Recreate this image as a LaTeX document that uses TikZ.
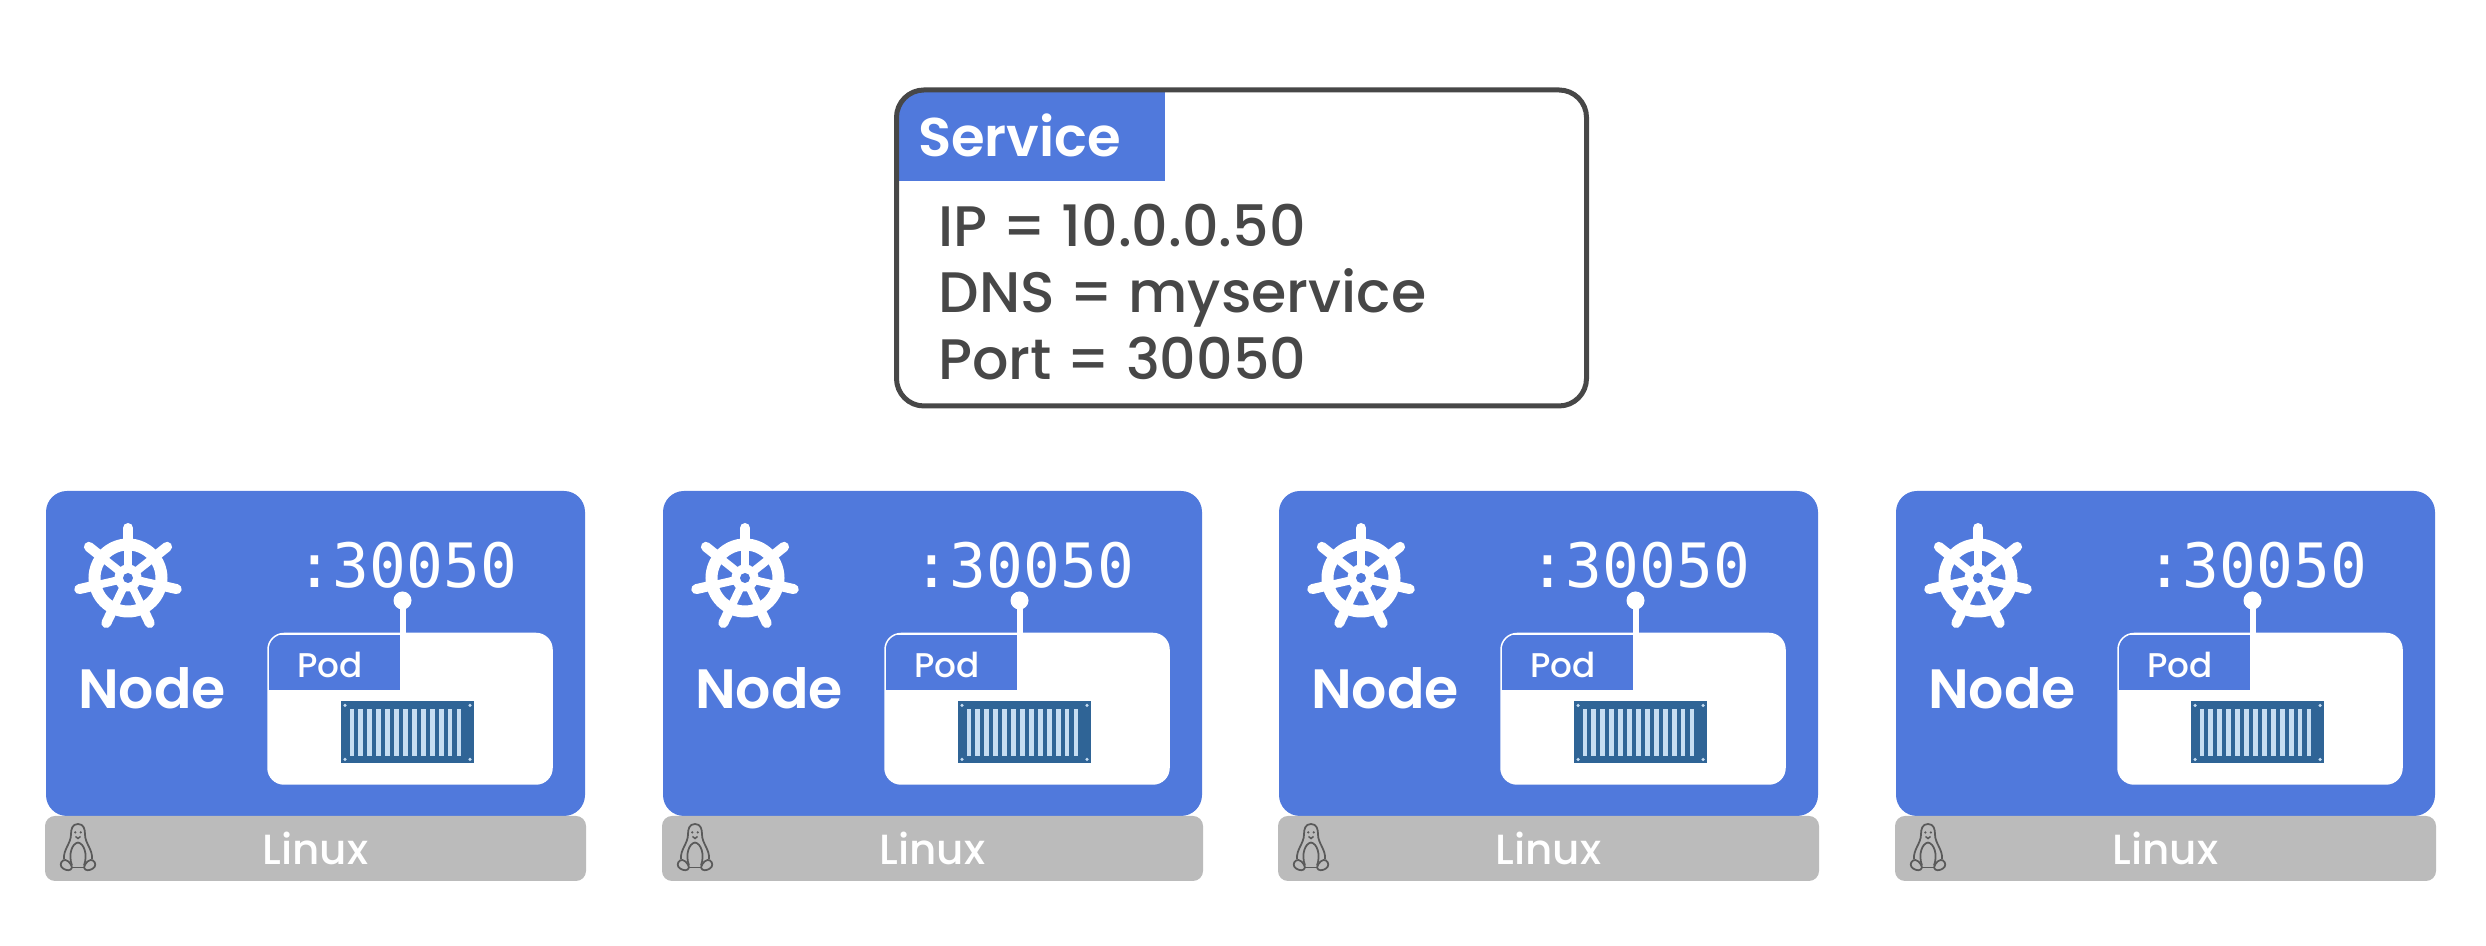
\documentclass[tikz,border=0pt]{standalone}
\usepackage{fontspec}
\setmainfont{Poppins}[UprightFont=* Medium, BoldFont=* SemiBold]
\setmonofont{DejaVu Sans Mono}
\usepackage{tikz}
\usetikzlibrary{positioning}
\definecolor{kubeblue}{HTML}{5079DC}
\definecolor{osgray}{HTML}{BBBBBB}
\definecolor{inkgray}{HTML}{474747}
\definecolor{crateblue}{HTML}{2F6496}
\definecolor{slatblue}{HTML}{C6DDF2}
\definecolor{tuxgray}{HTML}{5A5A5A}

\tikzset{
  helm/.pic={
    \foreach \a in {0,...,6} {
      \draw[white, line width=0.16cm] (0,0) -- (90+\a*360/7:0.71);
      \draw[white, line width=0.2cm, line cap=round] (90+\a*360/7:0.71) -- (90+\a*360/7:1.0);
    }
    \draw[white, line width=0.24cm] (0,0) circle (0.67);
    \fill[white] (0,0) circle (0.27);
    \fill[kubeblue] (0,0) circle (0.1);
  },
  tux/.pic={
    \foreach \s in {1,-1} {
      \begin{scope}[xscale=\s, draw=tuxgray, line width=0.035cm]
        \draw (0,0.49) .. controls (0.12,0.49) and (0.14,0.38) .. (0.14,0.28)
          .. controls (0.14,0.1) and (0.3,-0.02) .. (0.28,-0.22);
        \draw (0,0.12) .. controls (0.12,0.1) and (0.2,-0.12) .. (0.12,-0.34);
        \draw (0,-0.38) -- (0.12,-0.38);
        \draw (0.12,-0.38) .. controls (0.14,-0.28) and (0.24,-0.2) .. (0.3,-0.24)
          .. controls (0.36,-0.28) and (0.36,-0.36) .. (0.3,-0.4)
          .. controls (0.24,-0.44) and (0.14,-0.46) .. (0.12,-0.38);
        \fill[tuxgray] (0.055,0.32) circle (0.025);
      \end{scope}
    }
    \draw[tuxgray, line width=0.03cm] (-0.05,0.24) -- (0,0.2) -- (0.05,0.24);
  }
}

\begin{document}
\begin{tikzpicture}[
    every node/.style={inner sep=0pt, outer sep=0pt},
    servicebox/.style={draw=inkgray, line width=0.1cm, fill=white, rounded corners=0.55cm, minimum width=13.8cm, minimum height=6.32cm,
      path picture={\fill[kubeblue, sharp corners] (path picture bounding box.north west) rectangle ++(5.36,-1.82);}},
    nodecard/.style={fill=kubeblue, rounded corners=0.42cm, minimum width=10.78cm, minimum height=6.5cm},
    osbar/.style={fill=osgray, rounded corners=0.2cm, minimum width=10.82cm, minimum height=1.3cm, text=white, font=\fontsize{24}{24}\selectfont},
    podbox/.style={draw=white, line width=0.03cm, fill=white, rounded corners=0.32cm, minimum width=5.68cm, minimum height=3.01cm,
      path picture={\fill[kubeblue, sharp corners] ([yshift=-0.04cm]path picture bounding box.north west) rectangle ++(2.63,-1.1);}},
    podtitle/.style={text=white, minimum width=2.63cm, minimum height=1.14cm, font=\fontsize{19.5}{19.5}\selectfont},
    crate/.style={fill=crateblue, minimum width=2.66cm, minimum height=1.24cm},
    portline/.style={white, line width=0.12cm},
    portdot/.style={circle, fill=white, minimum size=0.36cm}
  ]
    \useasboundingbox (0,0) rectangle (49.72,18.92);

    \node [servicebox] (service) at (24.83,13.96) {};
    \node [below right=0.47cm and 0.43cm of service.north west, text=white, font=\bfseries\fontsize{31}{31}\selectfont] (servicetitle) {Service};
    \node [below right=2.28cm and 0.84cm of service.north west, text=inkgray, align=left, font=\fontsize{32.5}{37.9}\selectfont] (serviceinfo) {IP = 10.0.0.50\\DNS = myservice\\Port = 30050};

    \foreach \i/\x in {1/0.92,2/13.26,3/25.58,4/37.92} {
      \node [nodecard, anchor=south west] (card\i) at (\x,2.6) {};
      \node [osbar, below=0pt of card\i] (os\i) {Linux};
      \pic at ([shift={(0.66,-0.65)}]os\i.north west) {tux};

      \pic at ([shift={(1.64,-1.74)}]card\i.north west) {helm};
      \node [below right=3.54cm and 0.64cm of card\i.north west, text=white, font=\bfseries\fontsize{31.5}{31.5}\selectfont] (name\i) {Node};
      \node [below right=1.02cm and 5.0cm of card\i.north west, text=white, font=\ttfamily\fontsize{34.8}{34.8}\selectfont] (port\i) {:30050};

      \node [podbox, above left=0.64cm and 0.66cm of card\i.south east] (pod\i) {};
      \node [podtitle, below right=0.05cm and -0.08cm of pod\i.north west] (podname\i) {Pod};
      \node [crate, below right=1.36cm and 1.46cm of pod\i.north west] (crate\i) {};
      \foreach \s in {0,...,12} {
        \fill[slatblue] ([shift={(0.17+\s*0.179,0.15)}]crate\i.south west) rectangle ++(0.09,0.93);
      }
      \foreach \c/\dx/\dy in {north west/0.08/-0.08, north east/-0.08/-0.08, south west/0.08/0.08, south east/-0.08/0.08} {
        \fill[slatblue] ([shift={(\dx,\dy)}]crate\i.\c) circle (0.035);
      }

      \node [portdot] (dot\i) at ([shift={(7.13,-2.19)}]card\i.north west) {};
      \draw[portline] (dot\i) -- (dot\i |- pod\i.north);
    }
\end{tikzpicture}
\end{document}
